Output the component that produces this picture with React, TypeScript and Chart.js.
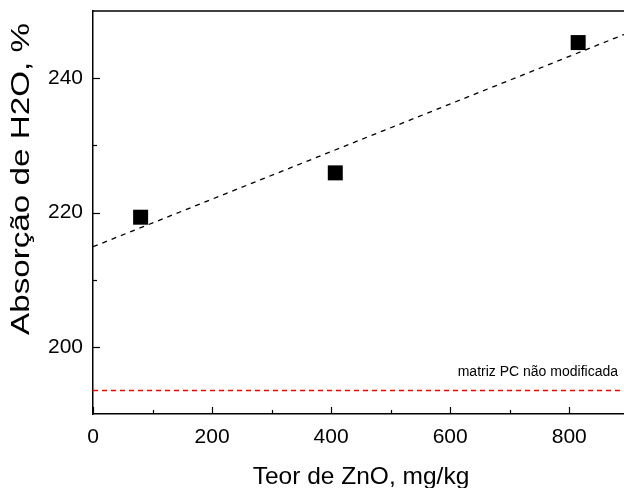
import React, { useEffect, useRef } from "react";
import { Chart, registerables } from "chart.js";

Chart.register(...registerables);

const zincContent = [80, 407, 815];
const waterAbsorption = [219.3, 225.9, 245.3];
const fitX = [0, 892];
const fitY = [214.9, 246.5];
const baselineX = [0, 892];
const baselineY = [193.5, 193.5];
const baselineLabel = "matriz PC não modificada";
const xTitle = "Teor de ZnO, mg/kg";
const yTitle = "Absorção de H2O, %";
const xMajorTicks = [0, 200, 400, 600, 800];
const xMinorTicks = [100, 300, 500, 700];
const yMajorTicks = [200, 220, 240];
const yMinorTicks = [210, 230];

const FONT = "'Liberation Sans', Arial, sans-serif";

const framePlugin = {
  id: "frameTicks",
  afterDraw(chart: any) {
    const { ctx, chartArea, scales } = chart;
    const xs = scales.x;
    const ys = scales.y;
    ctx.save();
    ctx.strokeStyle = "#000";
    ctx.lineWidth = 1.5;
    ctx.beginPath();
    ctx.moveTo(chartArea.left, chartArea.top);
    ctx.lineTo(chartArea.right, chartArea.top);
    ctx.stroke();
    ctx.lineWidth = 1.2;
    const xt = (vals: number[], len: number) => {
      vals.forEach((v) => {
        const px = Math.round(xs.getPixelForValue(v)) + 0.5;
        ctx.beginPath();
        ctx.moveTo(px, chartArea.bottom);
        ctx.lineTo(px, chartArea.bottom - len);
        ctx.stroke();
      });
    };
    const yt = (vals: number[], len: number) => {
      vals.forEach((v) => {
        const py = Math.round(ys.getPixelForValue(v)) + 0.5;
        ctx.beginPath();
        ctx.moveTo(chartArea.left, py);
        ctx.lineTo(chartArea.left + len, py);
        ctx.stroke();
      });
    };
    xt(xMajorTicks, 7);
    xt(xMinorTicks, 4);
    yt(yMajorTicks, 7);
    yt(yMinorTicks, 4);

    ctx.fillStyle = "#000";
    ctx.font = "14px " + FONT;
    ctx.textAlign = "right";
    ctx.textBaseline = "middle";
    ctx.fillText(baselineLabel, chartArea.right - 6, ys.getPixelForValue(baselineY[0]) - 18);

    // x axis title
    ctx.font = "24.5px " + FONT;
    ctx.textAlign = "center";
    ctx.textBaseline = "alphabetic";
    ctx.fillText(xTitle, 361, 484);

    // y axis title
    ctx.font = "25px " + FONT;
    ctx.textBaseline = "middle";
    const w = ctx.measureText(yTitle).width;
    const target = 312;
    ctx.translate(22, 179);
    ctx.rotate(-Math.PI / 2);
    ctx.scale(target / w, 1);
    ctx.fillText(yTitle, 0, 0);
    ctx.restore();
  },
};

export default function App() {
  const ref = useRef<HTMLCanvasElement>(null);
  useEffect(() => {
    if (!ref.current) return;
    const chart = new Chart(ref.current, {
      type: "scatter",
      data: {
        datasets: [
          {
            label: "fit",
            data: fitX.map((x, i) => ({ x, y: fitY[i] })),
            showLine: true,
            borderColor: "#000",
            borderWidth: 1.3,
            borderDash: [5, 5],
            pointRadius: 0,
            fill: false,
          },
          {
            label: "baseline",
            data: baselineX.map((x, i) => ({ x, y: baselineY[i] })),
            showLine: true,
            borderColor: "#ff0000",
            borderWidth: 1.4,
            borderDash: [5, 4],
            pointRadius: 0,
            fill: false,
          },
          {
            label: "data",
            data: zincContent.map((x, i) => ({ x, y: waterAbsorption[i] })),
            pointStyle: "rect",
            pointRadius: 10.6,
            backgroundColor: "#000",
            borderWidth: 0,
          },
        ],
      },
      options: {
        animation: false,
        responsive: false,
        devicePixelRatio: 1,
        layout: { autoPadding: false, padding: { top: 11, right: 0, left: 0, bottom: 0 } },
        plugins: { legend: { display: false }, tooltip: { enabled: false } },
        scales: {
          x: {
            type: "linear",
            min: 0,
            max: 892,
            afterBuildTicks: (s: any) => {
              s.ticks = xMajorTicks.map((v) => ({ value: v }));
            },
            afterFit: (s: any) => {
              s.height = 74;
              s.paddingLeft = 0;
              s.paddingRight = 0;
            },
            grid: { display: false, drawTicks: false },
            border: { display: true, color: "#000", width: 1.5 },
            ticks: {
              autoSkip: false,
              maxRotation: 0,
              padding: 11,
              color: "#000",
              font: { family: FONT, size: 21 },
            },
            title: { display: false },
          },
          y: {
            type: "linear",
            min: 190,
            max: 250,
            afterBuildTicks: (s: any) => {
              s.ticks = yMajorTicks.map((v) => ({ value: v }));
            },
            afterFit: (s: any) => {
              s.width = 93;
              s.paddingTop = 0;
              s.paddingBottom = 0;
            },
            grid: { display: false, drawTicks: false },
            border: { display: true, color: "#000", width: 1.5 },
            ticks: {
              autoSkip: false,
              padding: 10,
              color: "#000",
              font: { family: FONT, size: 21 },
            },
            title: { display: false },
          },
        },
      },
      plugins: [framePlugin],
    } as any);
    return () => chart.destroy();
  }, []);
  return (
    <div style={{ position: "fixed", left: 0, top: 0, width: 624, height: 488, background: "#fff" }}>
      <canvas ref={ref} width={624} height={488} style={{ display: "block" }} />
    </div>
  );
}
